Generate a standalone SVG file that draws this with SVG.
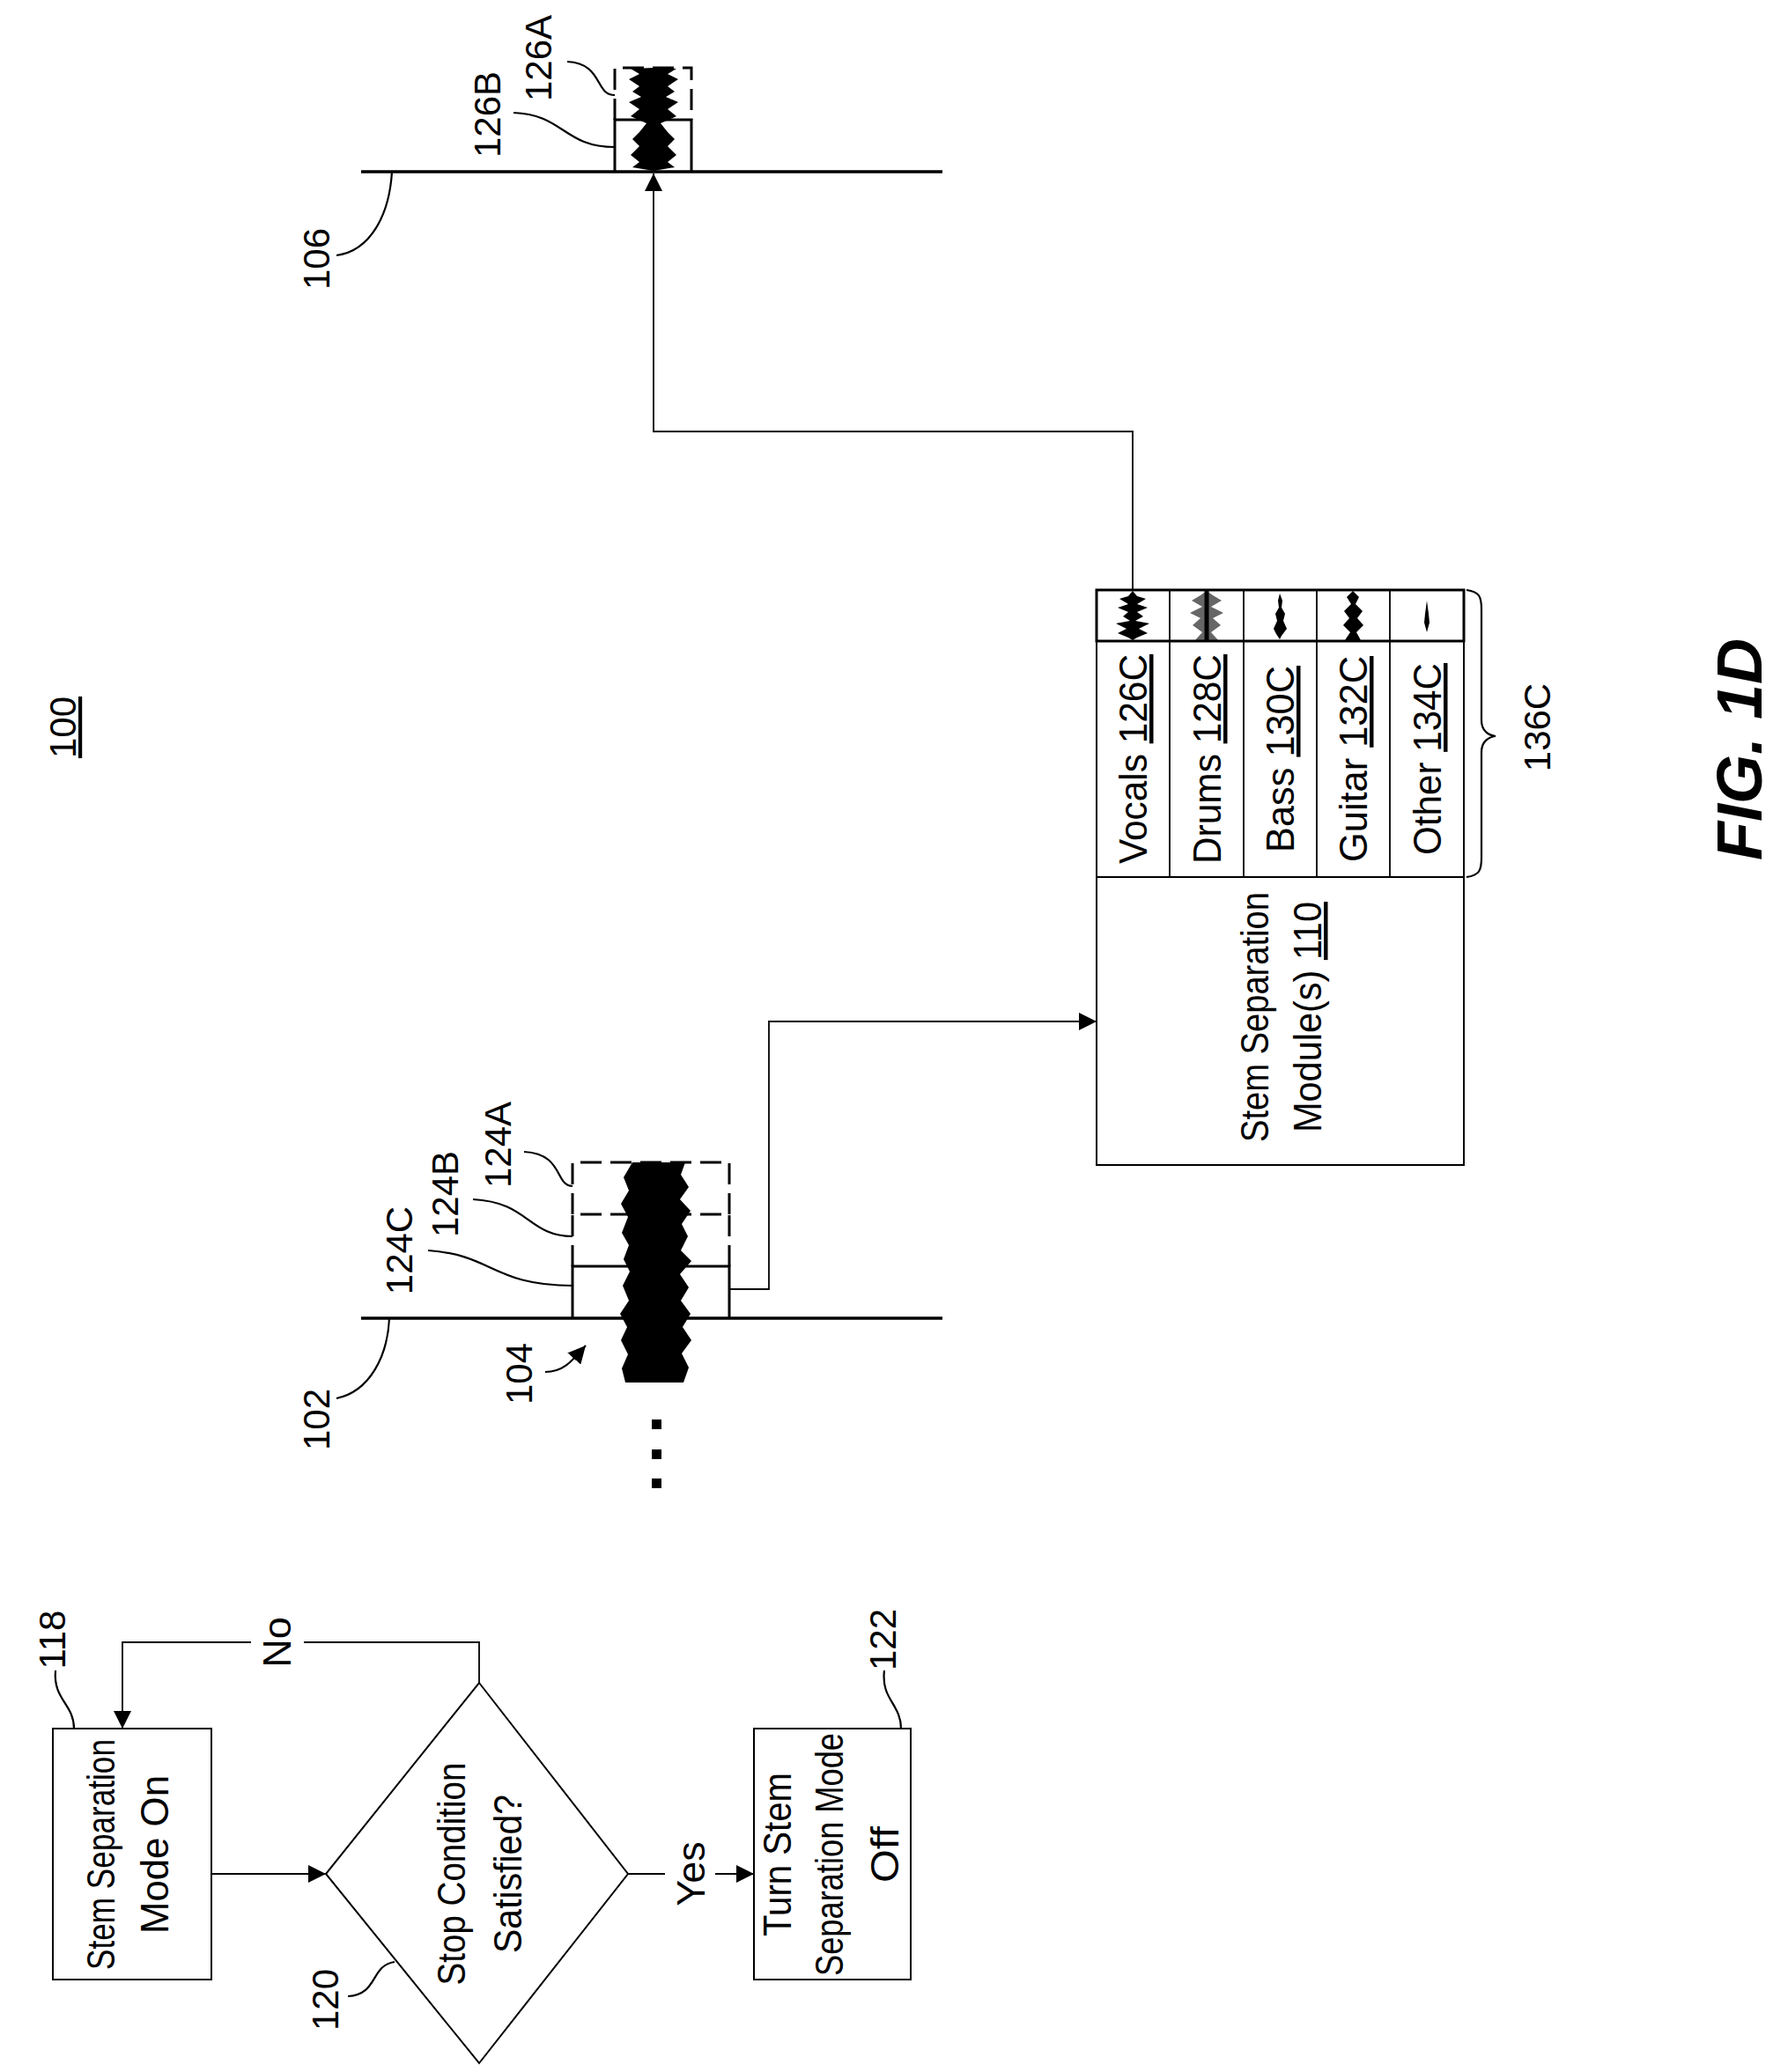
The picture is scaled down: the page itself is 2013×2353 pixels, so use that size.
<svg xmlns="http://www.w3.org/2000/svg" width="2013" height="2353" viewBox="0 0 2013 2353">
<style>
text{font-family:"Liberation Sans",Arial,sans-serif;fill:#000}
.t{font-size:45px;text-anchor:middle}
.l{font-size:42px;text-anchor:middle}
.box{fill:#fff;stroke:#000;stroke-width:2}
.trk{stroke:#000;stroke-width:3.5;fill:none}
.con{stroke:#000;stroke-width:1.8;fill:none}
.lead{stroke:#000;stroke-width:2.2;fill:none}
.sol{stroke:#000;stroke-width:3;fill:none}
.dsh{stroke:#000;stroke-width:3;fill:none;stroke-dasharray:24 10}
.wf{fill:#000}
</style>
<defs>
<marker id="ah2" viewBox="0 0 10 10" refX="10" refY="5" markerWidth="20" markerHeight="20" markerUnits="userSpaceOnUse" orient="auto"><path d="M0,0 L10,5 L0,10 z" fill="#000"/></marker>
</defs>
<rect width="2013" height="2353" fill="#fff"/>

<text class="l" transform="translate(86,826) rotate(-90)" text-decoration="underline">100</text>
<text transform="translate(2000,851) rotate(-90)" style="font-size:72px;font-weight:bold;font-style:italic;text-anchor:middle">FIG. 1D</text>

<!-- Flowchart -->
<g id="n118">
<rect class="box" x="60" y="1963" width="180" height="285"/>
<text class="t" transform="translate(130,2106) rotate(-90)" textLength="262" lengthAdjust="spacingAndGlyphs">Stem Separation</text>
<text class="t" transform="translate(191,2106) rotate(-90)" textLength="180" lengthAdjust="spacingAndGlyphs">Mode On</text>
<text class="l" transform="translate(74,1862) rotate(-90)">118</text>
<path class="lead" d="M63,1897 C60,1930 84,1935 84,1963"/>
</g>
<g id="n120">
<polygon class="box" points="544,1911 713,2128 544,2343 370,2128"/>
<text class="t" transform="translate(528,2128) rotate(-90)" textLength="253" lengthAdjust="spacingAndGlyphs">Stop Condition</text>
<text class="t" transform="translate(592,2128) rotate(-90)" textLength="180" lengthAdjust="spacingAndGlyphs">Satisfied?</text>
<text class="l" transform="translate(384,2271) rotate(-90)">120</text>
<path class="lead" d="M395,2267 C430,2265 420,2232 448,2228"/>
</g>
<g id="n122">
<rect class="box" x="856" y="1963" width="178" height="285"/>
<text class="t" transform="translate(898,2106) rotate(-90)" textLength="186" lengthAdjust="spacingAndGlyphs">Turn Stem</text>
<text class="t" transform="translate(957,2106) rotate(-90)" textLength="276" lengthAdjust="spacingAndGlyphs">Separation Mode</text>
<text class="t" transform="translate(1020,2106) rotate(-90)" textLength="64" lengthAdjust="spacingAndGlyphs">Off</text>
<text class="l" transform="translate(1017,1862) rotate(-90)">122</text>
<path class="lead" d="M1004,1897 C1000,1930 1023,1935 1023,1963"/>
</g>

<!-- Track 102 -->
<g id="n102">
<line class="trk" x1="410" y1="1497" x2="1070" y2="1497"/>
<text class="l" transform="translate(374,1612) rotate(-90)">102</text>
<path class="lead" d="M442,1497 C440,1540 420,1580 382,1588"/>
</g>
<g id="n124">
<path class="sol" d="M650,1497 V1438 H828 V1497"/>
<path class="dsh" d="M650,1438 V1379 H828 V1438"/>
<path class="dsh" d="M650,1379 V1320 H828 V1379"/>
<polygon class="wf" points="718,1320 778,1320 773,1334 782,1348 772,1362 784,1375 774,1390 781,1404 773,1420 785,1432 772,1447 782,1462 773,1477 784,1492 775,1507 785,1522 774,1537 782,1553 776,1570 710,1570 706,1554 713,1538 705,1522 712,1507 704,1492 714,1477 707,1460 715,1444 708,1430 714,1414 706,1400 713,1382 705,1367 714,1352 708,1337"/>
<text class="l" transform="translate(468,1420) rotate(-90)">124C</text>
<text class="l" transform="translate(520,1356) rotate(-90)">124B</text>
<text class="l" transform="translate(580,1300) rotate(-90)">124A</text>
<path class="lead" d="M486,1420 C560,1425 560,1460 650,1460"/>
<path class="lead" d="M537,1362 C600,1365 600,1404 650,1404"/>
<path class="lead" d="M595,1308 C640,1310 630,1347 650,1347"/>
<text class="l" transform="translate(604,1560) rotate(-90)">104</text>
<path class="lead" d="M619,1558 C640,1558 650,1545 665,1528" marker-end="url(#ah2)"/>
<rect x="740" y="1612" width="11" height="11"/>
<rect x="740" y="1646" width="11" height="11"/>
<rect x="740" y="1679" width="11" height="11"/>
</g>

<!-- Module -->
<g id="n110">
<rect class="box" x="1245" y="670" width="417" height="653"/>
<line class="con" x1="1245" y1="996" x2="1662" y2="996"/>
<rect x="1245" y="670" width="417" height="58" fill="none" stroke="#000" stroke-width="3"/>
<line class="con" x1="1328" y1="670" x2="1328" y2="996"/>
<line class="con" x1="1412" y1="670" x2="1412" y2="996"/>
<line class="con" x1="1495" y1="670" x2="1495" y2="996"/>
<line class="con" x1="1578" y1="670" x2="1578" y2="996"/>
<text class="t" transform="translate(1440,1155) rotate(-90)" textLength="284" lengthAdjust="spacingAndGlyphs">Stem Separation</text>
<text class="t" transform="translate(1500,1155) rotate(-90)" textLength="262" lengthAdjust="spacingAndGlyphs">Module(s) <tspan text-decoration="underline">110</tspan></text>
<text class="t" transform="translate(1302,862) rotate(-90)" textLength="238" lengthAdjust="spacingAndGlyphs">Vocals <tspan text-decoration="underline">126C</tspan></text>
<text class="t" transform="translate(1386,862) rotate(-90)" textLength="238" lengthAdjust="spacingAndGlyphs">Drums <tspan text-decoration="underline">128C</tspan></text>
<text class="t" transform="translate(1469,862) rotate(-90)" textLength="212" lengthAdjust="spacingAndGlyphs">Bass <tspan text-decoration="underline">130C</tspan></text>
<text class="t" transform="translate(1552,862) rotate(-90)" textLength="234" lengthAdjust="spacingAndGlyphs">Guitar <tspan text-decoration="underline">132C</tspan></text>
<text class="t" transform="translate(1636,862) rotate(-90)" textLength="218" lengthAdjust="spacingAndGlyphs">Other <tspan text-decoration="underline">134C</tspan></text>
<polygon class="wf" points="1286,671 1291,677 1301,680 1291,686 1303,690 1291,695 1298,700 1289,705 1305,708 1293,714 1303,719 1291,724 1286,727 1281,724 1269,719 1279,714 1267,708 1283,705 1275,700 1281,695 1269,690 1281,686 1271,680 1281,677"/>
<polygon class="wf" points="1370,671 1377,676 1387,682 1375,689 1389,696 1377,702 1386,710 1375,718 1383,727 1357,727 1365,718 1354,710 1363,702 1351,696 1365,689 1353,682 1363,676" fill-opacity="0.6"/>
<line x1="1370" y1="671" x2="1370" y2="727" stroke="#000" stroke-width="5"/>
<polygon class="wf" points="1453,674 1456,682 1455,690 1459,697 1457,705 1461,714 1455,722 1453,726 1449,720 1446,714 1450,705 1448,697 1452,690 1451,682"/>
<polygon class="wf" points="1536,671 1543,678 1539,686 1547,694 1541,702 1548,710 1540,718 1545,727 1527,727 1533,718 1525,710 1532,702 1526,694 1534,686 1529,678"/>
<polygon class="wf" points="1620,682 1622,697 1623,707 1620,718 1617,707 1618,697"/>
<path class="lead" d="M1665,670 C1680,672 1682,678 1682,692 V818 C1682,830 1690,835 1698,836 C1690,837 1682,842 1682,854 V974 C1682,988 1680,994 1665,996"/>
<text class="l" transform="translate(1760,826) rotate(-90)">136C</text>
</g>

<!-- Track 106 -->
<g id="n106">
<line class="trk" x1="410" y1="195" x2="1070" y2="195"/>
<text class="l" transform="translate(374,294) rotate(-90)">106</text>
<path class="lead" d="M445,195 C442,245 420,285 382,290"/>
</g>
<g id="n126">
<path class="sol" d="M698,195 V136 H785 V195"/>
<path class="dsh" d="M698,136 V77 H785 V136"/>
<polygon class="wf" points="742,77 768,78 758,84 770,90 758,98 766,104 756,110 770,116 758,124 768,132 750,140 758,150 766,158 758,166 768,176 758,184 766,190 742,194 718,190 726,184 716,176 726,166 718,158 726,150 734,140 716,132 726,124 714,116 728,110 718,104 726,98 714,90 726,84 716,78"/>
<text class="l" transform="translate(568,130) rotate(-90)">126B</text>
<text class="l" transform="translate(626,66) rotate(-90)">126A</text>
<path class="lead" d="M583,128 C640,130 640,167 698,167"/>
<path class="lead" d="M644,70 C685,72 675,108 698,108"/>
</g>

<!-- Connectors -->
<g id="connectors">
<polyline class="con" points="828,1464 873,1464 873,1160 1245,1160" marker-end="url(#ah2)"/>
<polyline class="con" points="1286,670 1286,490 742,490 742,197" marker-end="url(#ah2)"/>
<line class="con" x1="240" y1="2128" x2="370" y2="2128" marker-end="url(#ah2)"/>
<line class="con" x1="713" y1="2128" x2="755" y2="2128"/>
<line class="con" x1="812" y1="2128" x2="856" y2="2128" marker-end="url(#ah2)"/>
<text class="t" transform="translate(800,2128) rotate(-90)">Yes</text>
<polyline class="con" points="544,1911 544,1865 345,1865"/>
<polyline class="con" points="285,1865 139,1865 139,1963" marker-end="url(#ah2)"/>
<text class="t" transform="translate(330,1865) rotate(-90)">No</text>
</g>
</svg>
